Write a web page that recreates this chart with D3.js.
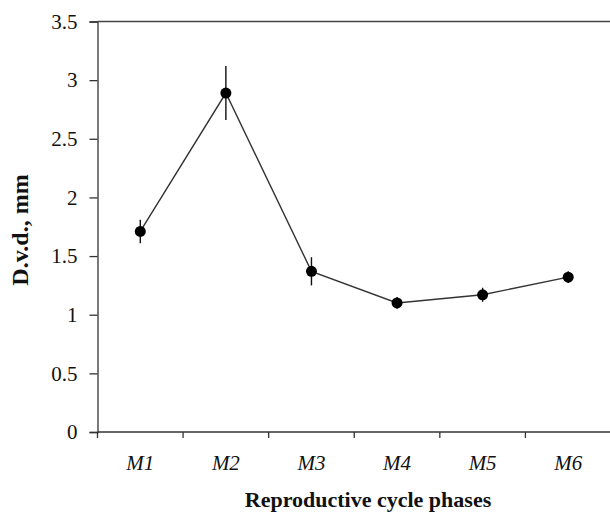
<!DOCTYPE html>
<html>
<head>
<meta charset="utf-8">
<script src="https://cdn.jsdelivr.net/npm/d3@7/dist/d3.min.js"></script>
<style>
  html, body { margin: 0; padding: 0; background: #fff; }
  svg text { font-family: "Liberation Serif", "Times New Roman", serif; fill: #111; }
</style>
</head>
<body>
<div id="chart"></div>
<script>
// ── Data ──────────────────────────────────────────────────────────────────────
const phases = ['M1', 'M2', 'M3', 'M4', 'M5', 'M6'];
const dvd    = [1.71, 2.89, 1.37, 1.10, 1.17, 1.32];
const dvdErr = [0.10, 0.23, 0.12, 0.05, 0.06, 0.05];
const yTicks = [0, 0.5, 1, 1.5, 2, 2.5, 3, 3.5];

// ── Layout ────────────────────────────────────────────────────────────────────
const width = 610, height = 513;
const margin = { top: 21.5, right: -1, bottom: 81, left: 97.5 };
const innerW = width - margin.left - margin.right;
const innerH = height - margin.top - margin.bottom;

const svg = d3.select('#chart').append('svg')
  .attr('width', width)
  .attr('height', height)
  .attr('viewBox', `0 0 ${width} ${height}`);

const g = svg.append('g').attr('transform', `translate(${margin.left},${margin.top})`);

const x = d3.scaleBand().domain(phases).range([0, innerW]).padding(0);
const y = d3.scaleLinear().domain([0, 3.5]).range([innerH, 0]);

// Y axis
const yAxis = g.append('g')
  .call(d3.axisLeft(y).tickValues(yTicks).tickSize(8).tickPadding(12)
    .tickFormat((d) => String(d)));
yAxis.select('.domain').attr('stroke', '#333').attr('stroke-width', 1.3);
yAxis.selectAll('.tick line').attr('stroke', '#333').attr('stroke-width', 1.3);
yAxis.selectAll('.tick text').attr('font-size', 21).attr('fill', '#111');

// top frame line
g.append('line')
  .attr('x1', 0).attr('x2', innerW + 5)
  .attr('y1', y(3.5)).attr('y2', y(3.5))
  .attr('stroke', '#444').attr('stroke-width', 1.6);

// X axis: ticks at band boundaries, labels centered in bands
const xAxis = g.append('g').attr('transform', `translate(0,${innerH})`);
xAxis.append('line')
  .attr('x1', 0).attr('x2', innerW + 5)
  .attr('y1', 0).attr('y2', 0)
  .attr('stroke', '#333').attr('stroke-width', 1.3);
xAxis.selectAll('.xtick')
  .data(phases)
  .join('line')
  .attr('class', 'xtick')
  .attr('x1', (d) => x(d)).attr('x2', (d) => x(d))
  .attr('y1', 0).attr('y2', 6)
  .attr('stroke', '#333').attr('stroke-width', 1.3);
xAxis.selectAll('.xlabel')
  .data(phases)
  .join('text')
  .attr('class', 'xlabel')
  .attr('x', (d) => x(d) + x.bandwidth() / 2)
  .attr('y', 38)
  .attr('text-anchor', 'middle')
  .attr('font-size', 21)
  .attr('font-style', 'italic')
  .text((d) => d);

// Axis titles
svg.append('text')
  .attr('x', 368)
  .attr('y', 507)
  .attr('text-anchor', 'middle')
  .attr('font-size', 22)
  .attr('font-weight', 'bold')
  .text('Reproductive cycle phases');

svg.append('text')
  .attr('transform', `translate(28,230) rotate(-90)`)
  .attr('text-anchor', 'middle')
  .attr('font-size', 24)
  .attr('font-weight', 'bold')
  .text('D.v.d., mm');

// Series
const pts = phases.map((p, i) => ({ p, v: dvd[i], e: dvdErr[i] }));
const cx = (d) => x(d.p) + x.bandwidth() / 2;

g.append('path')
  .datum(pts)
  .attr('fill', 'none')
  .attr('stroke', '#333')
  .attr('stroke-width', 1.4)
  .attr('d', d3.line().x(cx).y((d) => y(d.v)));

g.selectAll('.err')
  .data(pts)
  .join('line')
  .attr('class', 'err')
  .attr('x1', cx).attr('x2', cx)
  .attr('y1', (d) => y(d.v + d.e))
  .attr('y2', (d) => y(d.v - d.e))
  .attr('stroke', '#111')
  .attr('stroke-width', 1.4);

g.selectAll('.pt')
  .data(pts)
  .join('circle')
  .attr('class', 'pt')
  .attr('cx', cx)
  .attr('cy', (d) => y(d.v))
  .attr('r', 5.5)
  .attr('fill', '#000');
</script>
</body>
</html>
